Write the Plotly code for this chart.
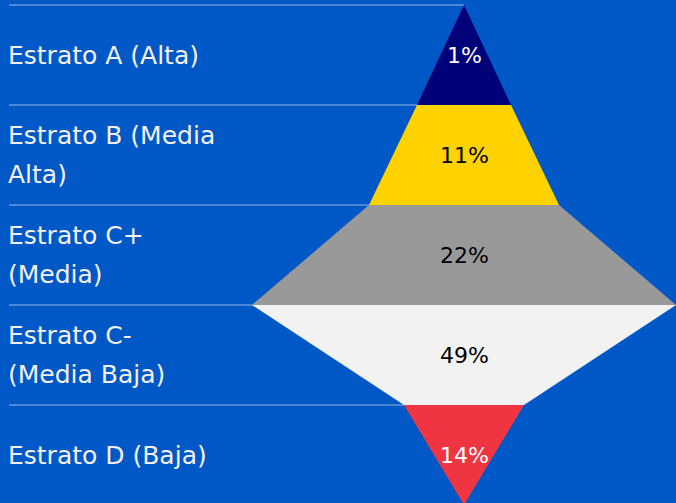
import plotly.graph_objects as go

# ---- data ----
categories = ["Estrato A (Alta)", "Estrato B (Media<br>Alta)", "Estrato C+<br>(Media)",
              "Estrato C-<br>(Media Baja)", "Estrato D (Baja)"]
values = [1, 11, 22, 49, 14]
value_labels = ["1%", "11%", "22%", "49%", "14%"]
# half-width of the shape at each boundary between strata (top to bottom)
boundary_halfwidths = [0, 47, 95, 212, 60, 0]
fill_colors = ["#000078", "#FFD200", "#999999", "#F2F2F2", "#F03542"]
text_colors = ["#FFFFFF", "#000000", "#000000", "#000000", "#FFFFFF"]

BG = "#0058C6"
FONT = "DejaVu Sans"

fig = go.Figure()

# divider lines (drawn first so shapes cover them)
for i in range(len(categories)):
    fig.add_trace(go.Scatter(
        x=[-455, 0], y=[i, i], mode="lines",
        line=dict(color="#4C88D8", width=2), hoverinfo="skip", showlegend=False))

# strata polygons
for i, (cat, v) in enumerate(zip(categories, values)):
    h0, h1 = boundary_halfwidths[i], boundary_halfwidths[i + 1]
    fig.add_trace(go.Scatter(
        x=[-h0, h0, h1, -h1, -h0], y=[i, i, i + 1, i + 1, i],
        fill="toself", fillcolor=fill_colors[i], mode="lines",
        line=dict(width=0, color=fill_colors[i]),
        name=cat.replace("<br>", " "), text=f"{v}%", hoverinfo="name+text",
        showlegend=False))

annotations = []
for i, (lab, vl) in enumerate(zip(categories, value_labels)):
    yc = i + 0.5
    annotations.append(dict(x=0, y=yc, text=vl, showarrow=False, xanchor="center",
                            yanchor="middle",
                            font=dict(family=FONT, size=22, color=text_colors[i])))
    lines = lab.split("<br>")
    n = len(lines)
    for k, ln in enumerate(lines):
        yy = yc + (k - (n - 1) / 2) * 0.39
        annotations.append(dict(x=-455, y=yy, text=ln, showarrow=False, xanchor="left",
                                yanchor="middle", xshift=-3,
                                font=dict(family=FONT, size=25, color="#F5F0F2")))

fig.update_layout(
    width=676, height=503,
    margin=dict(l=0, r=0, t=0, b=0),
    paper_bgcolor=BG, plot_bgcolor=BG,
    xaxis=dict(range=[-464, 212], visible=False, fixedrange=True),
    yaxis=dict(range=[4.98, -0.05], visible=False, fixedrange=True),
    annotations=annotations,
    showlegend=False,
)

fig.write_html("out.html", config={"displayModeBar": False},
               post_script="document.body.style.margin='0px';")
